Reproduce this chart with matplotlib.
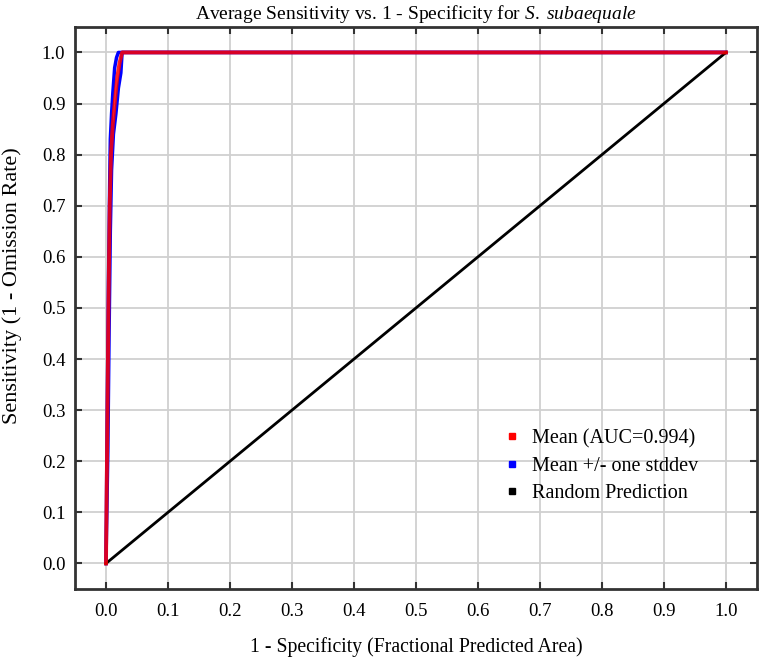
import numpy as np
import matplotlib.pyplot as plt
from matplotlib.lines import Line2D

# mean ROC curve (fractional predicted area, sensitivity)
mean_x = [0.0, 0.002, 0.004, 0.006, 0.008, 0.011, 0.014, 0.018, 0.022, 0.026, 1.0]
mean_y = [0.0, 0.25, 0.5, 0.7, 0.8, 0.86, 0.9, 0.95, 0.98, 1.0, 1.0]
# mean +/- one stddev
upper_x = [0.0, 0.002, 0.004, 0.006, 0.007, 0.009, 0.011, 0.014, 0.017, 0.020, 1.0]
upper_y = [0.0, 0.3, 0.55, 0.75, 0.83, 0.88, 0.92, 0.97, 0.99, 1.0, 1.0]
lower_x = [0.0, 0.003, 0.005, 0.007, 0.009, 0.012, 0.016, 0.020, 0.024, 0.026, 1.0]
lower_y = [0.0, 0.22, 0.45, 0.65, 0.77, 0.84, 0.88, 0.93, 0.96, 1.0, 1.0]
rand_x = [0.0, 1.0]
rand_y = [0.0, 1.0]

auc = 0.994
ticks = np.round(np.arange(0, 1.01, 0.1), 1)

plt.rcParams['font.family'] = ['Liberation Serif', 'DejaVu Serif']
plt.rcParams['mathtext.fontset'] = 'custom'
plt.rcParams['mathtext.rm'] = 'Liberation Serif'
plt.rcParams['mathtext.it'] = 'Liberation Serif:italic'

fig = plt.figure(figsize=(7.62, 6.59), dpi=100)
ax = fig.add_axes([0.0984, 0.1062, 0.895, 0.853])

ax.plot(upper_x, upper_y, color='blue', lw=2.5, zorder=3)
ax.plot(lower_x, lower_y, color='blue', lw=2.5, zorder=3)
ax.plot(mean_x, mean_y, color='red', lw=2.8, alpha=0.85, zorder=4)
ax.plot(rand_x, rand_y, color='black', lw=2, zorder=3)

ax.set_xlim(-0.05, 1.05)
ax.set_ylim(-0.05, 1.05)
ax.set_xticks(ticks)
ax.set_yticks(ticks)
ax.set_xticklabels([f'{t:.1f}' for t in ticks])
ax.set_yticklabels([f'{t:.1f}' for t in ticks])
ax.tick_params(direction='in', length=5, width=1.5, color='#333333',
               top=True, right=True, labelsize=13.5, pad=7)
ax.tick_params(axis='x', pad=10)
ax.grid(True, color='#d0d0d0', lw=1.3)
ax.set_axisbelow(True)
for s in ax.spines.values():
    s.set_linewidth(2)
    s.set_color('#333333')

ax.set_title('Average Sensitivity vs. 1 - Specificity for $\\it{S.\\ subaequale}$',
             fontsize=14, pad=6)
ax.set_xlabel('1 - Specificity (Fractional Predicted Area)', fontsize=14.2)
ax.set_ylabel('Sensitivity (1 - Omission Rate)', fontsize=16)
ax.xaxis.set_label_coords(0.501, -0.085)
ax.yaxis.set_label_coords(-0.077, 0.54)

handles = [Line2D([], [], marker='s', ls='', color=c, markersize=5)
           for c in ['red', 'blue', 'black']]
labels = [f'Mean (AUC={auc})', 'Mean +/- one stddev', 'Random Prediction']
ax.legend(handles, labels, loc='lower left', bbox_to_anchor=(0.585, 0.12),
          frameon=False, fontsize=14.5, handletextpad=0.0, labelspacing=0.42)

fig.savefig('out.png', dpi=100)
